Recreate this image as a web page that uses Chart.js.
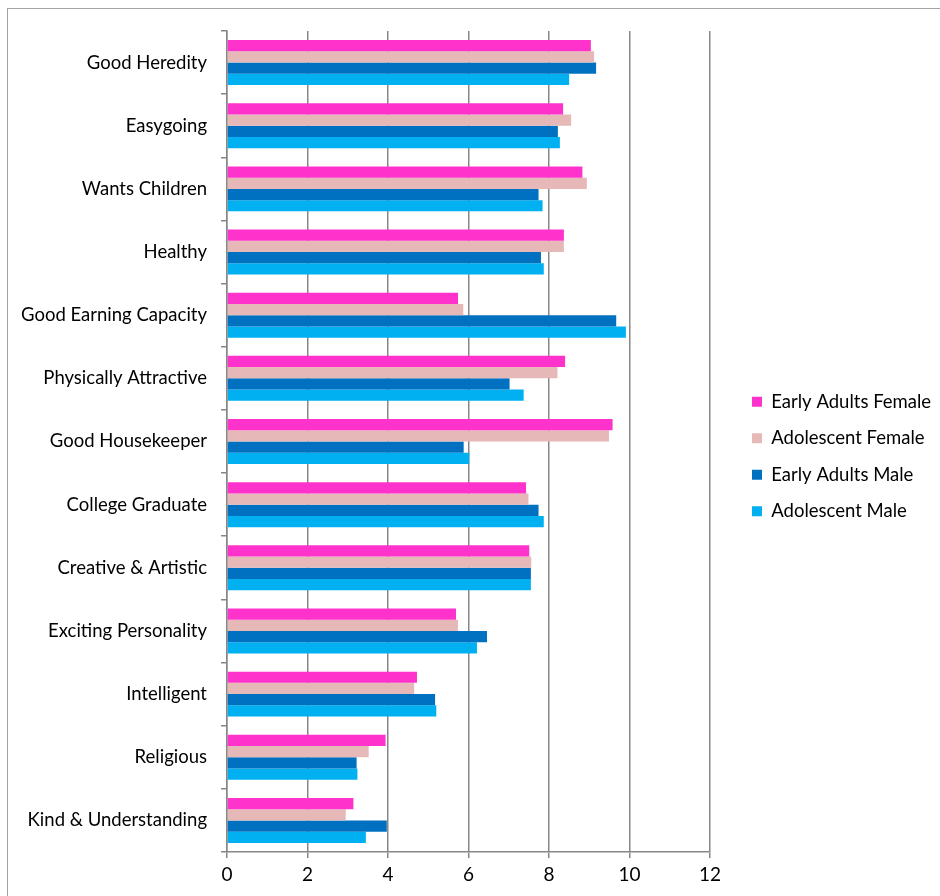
<html>
<head>
<script src="https://cdn.jsdelivr.net/npm/chart.js@4.4.0/dist/chart.umd.min.js"></script>
<style>
  body { margin: 0; background: #ffffff; overflow: hidden; }
  /* the grey frame round the whole chart, like the spreadsheet export */
  #frame { position: absolute; left: 7px; top: 8px; width: 1000px; height: 1000px; border: 1.5px solid #a3a3a3; }
  #chartHolder { position: absolute; left: 0; top: 0; }
</style>
</head>
<body>
<div id="frame"></div>
<div id="chartHolder"><canvas id="traitsChart" width="940" height="896"></canvas></div>

<script>
  // categories, top to bottom
  var traits = ["Good Heredity", "Easygoing", "Wants Children", "Healthy", "Good Earning Capacity",
                "Physically Attractive", "Good Housekeeper", "College Graduate", "Creative & Artistic",
                "Exciting Personality", "Intelligent", "Religious", "Kind & Understanding"];

  var earlyAdultsFemale = [9.04, 8.35, 8.83, 8.37, 5.74, 8.40, 9.58, 7.43, 7.51, 5.69, 4.72, 3.94, 3.14];
  var adolescentFemale  = [9.12, 8.55, 8.94, 8.37, 5.87, 8.21, 9.49, 7.49, 7.56, 5.74, 4.65, 3.52, 2.95];
  var earlyAdultsMale   = [9.17, 8.22, 7.74, 7.80, 9.67, 7.02, 5.88, 7.74, 7.55, 6.46, 5.17, 3.22, 3.97];
  var adolescentMale    = [8.50, 8.27, 7.84, 7.87, 9.91, 7.37, 6.02, 7.87, 7.55, 6.21, 5.20, 3.24, 3.45];

  var xTicks = [0, 2, 4, 6, 8, 10, 12];

  var gridGrey = "#878787";
  var labelFont = { family: "Lato", size: 18.5 };

  // legend box gets a fixed width, items drawn a bit to the right of its left edge
  var legendWidth = 230;
  var legendShiftX = 24;
  var legendShiftY = -7;

  function makeSet(name, values, colour) {
    return {
      label: name,
      data: values,
      backgroundColor: colour,
      borderWidth: 0,
      categoryPercentage: 0.712,
      barPercentage: 1.0
    };
  }

  var legendGap = {
    id: "legendGap",
    beforeUpdate: function(chart) {
      var legend = chart.legend;
      if (!legend || legend._gapPatched) return;
      legend._gapPatched = true;
      var origFit = legend.fit;
      legend.fit = function() {
        origFit.call(this);
        this.width = legendWidth;
      };
      var origDraw = legend.draw;
      legend.draw = function() {
        var c = this.ctx;
        c.save();
        c.translate(legendShiftX, legendShiftY);
        origDraw.call(this);
        c.restore();
      };
    }
  };

  var ctx = document.getElementById("traitsChart");

  var traitsChart = new Chart(ctx, {
    type: "bar",
    data: {
      labels: traits,
      datasets: [
        makeSet("Early Adults Female", earlyAdultsFemale, "#ff33cc"),
        makeSet("Adolescent Female", adolescentFemale, "#e6b9b8"),
        makeSet("Early Adults Male", earlyAdultsMale, "#0070c0"),
        makeSet("Adolescent Male", adolescentMale, "#00b0f0")
      ]
    },
    options: {
      indexAxis: "y",
      responsive: false,
      animation: false,
      layout: { padding: { top: 31, right: 0, bottom: 0, left: 0 } },
      scales: {
        x: {
          min: 0,
          max: 12,
          afterBuildTicks: function(scale) {
            scale.ticks = xTicks.map(function(v) { return { value: v }; });
          },
          afterFit: function(scale) { scale.height = 44; },
          grid: { color: gridGrey, lineWidth: 1.5, tickLength: 6 },
          border: { color: gridGrey, width: 1.5 },
          ticks: { color: "#000", font: { family: "Lato", size: 19 }, padding: 5 }
        },
        y: {
          afterFit: function(scale) { scale.width = 227; },
          grid: { drawOnChartArea: false, color: gridGrey, lineWidth: 1.5, tickLength: 6, offset: true },
          border: { color: gridGrey, width: 1.5 },
          ticks: { color: "#000", font: labelFont, padding: 14 }
        }
      },
      plugins: {
        legend: {
          position: "right",
          labels: {
            color: "#000",
            font: labelFont,
            boxWidth: 10,
            boxHeight: 10,
            padding: 18
          }
        },
        tooltip: { enabled: false }
      }
    },
    plugins: [legendGap]
  });
</script>
</body>
</html>
